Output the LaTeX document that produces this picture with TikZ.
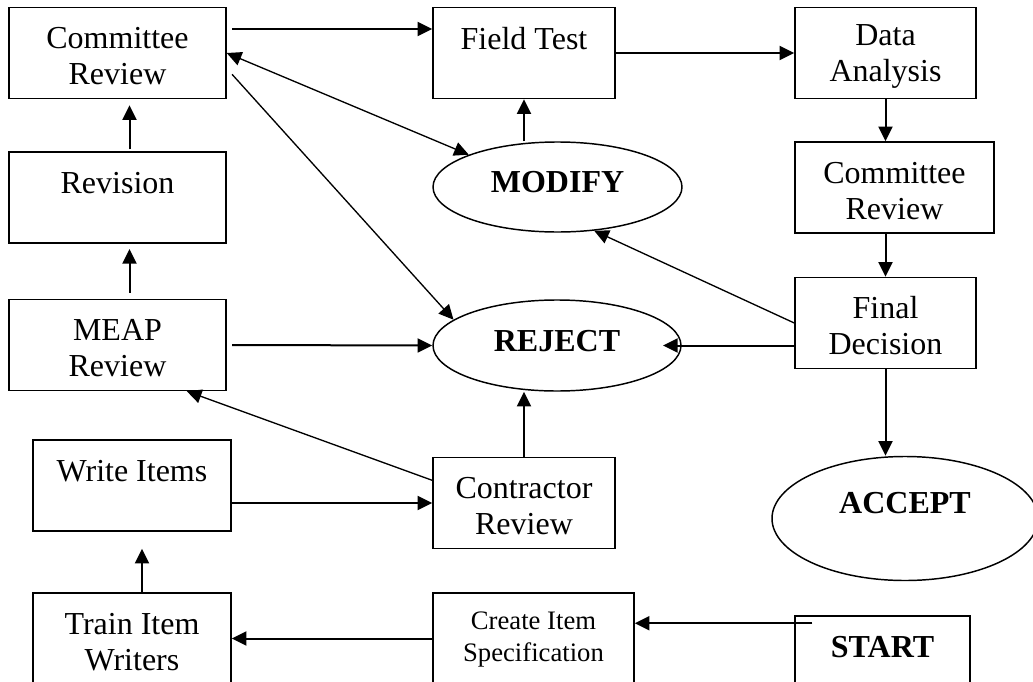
\documentclass[tikz,border=0pt]{standalone}
\usepackage{fontspec}
\setmainfont{Liberation Serif}
\usetikzlibrary{arrows.meta,shapes.geometric}

\begin{document}
\begin{tikzpicture}[
                x=0.75pt, y=-0.75pt,
                every node/.style={font=\fontsize{24}{27}\selectfont, align=center},
                stage/.style={draw, line width=1.1pt, minimum height=68.25pt, inner sep=0pt, text height=48pt},
                verdict/.style={draw, ellipse, line width=1.1pt, inner sep=0pt, font=\fontsize{24}{27}\selectfont\bfseries},
                arr/.style={-{Triangle[length=11pt,width=10.5pt]}, line width=1.5pt},
                slant/.style={arr, line width=1pt},
                both/.style={slant, {Triangle[length=11pt,width=10.5pt]}-{Triangle[length=11pt,width=10.5pt]}}
            ]
                \clip (0,0) rectangle (1033,682);
                % left column
                \node[stage, minimum width=162.75pt] (coml) at (117.5,53) {Committee\\Review};
                \node[stage, minimum width=162.75pt] (revision) at (117.5,197.5) {Revision\\~};
                \node[stage, minimum width=162.75pt] (meap) at (117.5,345) {MEAP\\Review};
                \node[stage, minimum width=148.5pt] (write) at (132,485.5) {Write Items\\~};
                \node[stage, minimum width=148.5pt] (train) at (132,638.5) {Train Item\\Writers};
                % middle column
                \node[stage, minimum width=136.5pt] (field) at (524,53) {Field Test\\~};
                \node[verdict, minimum width=186.75pt, minimum height=67.5pt, text depth=7pt] (modify) at (557.5,187) {MODIFY};
                \node[verdict, minimum width=186pt, minimum height=68.25pt, text depth=7pt] (reject) at (557,345.5) {REJECT};
                \node[stage, minimum width=136.5pt] (contractor) at (524,503) {Contractor\\Review};
                \node[stage, minimum width=150.75pt, text height=38pt, font=\fontsize{20}{24}\selectfont] (create) at (533.5,638.5) {Create Item\\Specification};
                % right column
                \node[stage, minimum width=135.75pt] (data) at (885.5,53) {Data\\Analysis};
                \node[stage, minimum width=149.25pt] (comr) at (894.5,187.5) {Committee\\Review};
                \node[stage, minimum width=135.75pt] (final) at (885.5,323) {Final\\Decision};
                \node[verdict, minimum width=199.5pt, minimum height=93pt, text height=47pt] (accept) at (905,518.5) {ACCEPT\\~};
                \node[stage, minimum width=131.25pt, font=\fontsize{24}{27}\selectfont\bfseries] (start) at (882.5,661.5) {START\\~};

                \draw[arr] ([xshift=13.5pt,yshift=-6pt]start.north west) coordinate (s) -- (s -| create.east);
                \draw[arr] (create.west) -- (train.east);
                \draw[arr] ([xshift=7.5pt]train.north) -- ([xshift=7.5pt,yshift=-12.75pt]write.south);
                \draw[arr] (write.east |- contractor.west) -- (contractor.west);
                \draw[slant] ([yshift=17pt]contractor.west) -- ([xshift=52pt]meap.south);
                \draw[arr] (contractor.north) -- (contractor.north |- reject.south);
                \draw[arr] ([xshift=9pt,yshift=4.5pt]meap.north) -- ([xshift=9pt,yshift=-4pt]revision.south);
                \draw[arr] ([xshift=4pt]meap.east) -- (reject.west);
                \draw[arr] ([xshift=9pt,yshift=1.5pt]revision.north) -- ([xshift=9pt,yshift=-4.5pt]coml.south);
                \draw[arr] ([xshift=4pt,yshift=18pt]coml.east) coordinate (c) -- (c -| field.west);
                \draw[both] (coml.east) -- (modify.160);
                \draw[slant] ([xshift=4pt,yshift=-16pt]coml.east) -- (reject.166);
                \draw[arr] (field.south |- modify.north) -- (field.south);
                \draw[arr] (field) -- (data);
                \draw[arr] (data.south) -- (data.south |- comr.north);
                \draw[arr] (final.north |- comr.south) -- (final.north);
                \draw[slant] (final.west) -- (modify.310);
                \draw[arr, shorten >=-14pt] (final.west |- reject.east) -- (reject.east);
                \draw[arr] (final.south) -- (final.south |- accept.north);
            \end{tikzpicture}
\end{document}
